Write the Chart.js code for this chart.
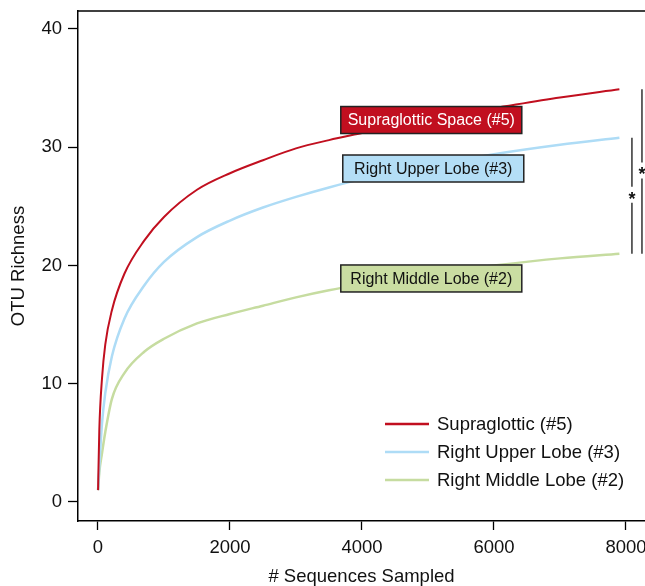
<!DOCTYPE html>
<html>
<head>
<meta charset="utf-8">
<script src="https://cdn.jsdelivr.net/npm/chart.js@4"></script>
<style>
  html, body { margin: 0; padding: 0; background: #fff; overflow: hidden; }
  #wrap { width: 645px; height: 586px; }
</style>
</head>
<body>
<div id="wrap"><canvas id="rarefaction"></canvas></div>
<script>
// rarefaction curves
const seqSampled   = [1, 20, 60, 110, 210, 400, 700, 1000, 1500, 2000, 2500, 3000, 3500, 4000, 5000, 6000, 7000, 7900];
const supraglottic = [1, 6.1, 10.4, 13.3, 16.2, 19.3, 22.1, 24.1, 26.4, 27.8, 28.9, 29.9, 30.6, 31.2, 32.4, 33.3, 34.2, 34.9];
const rightUpper   = [1, 3.0, 6.6, 9.2, 12.3, 15.5, 18.3, 20.3, 22.4, 23.8, 24.9, 25.8, 26.6, 27.3, 28.4, 29.4, 30.2, 30.8];
const rightMiddle  = [1, 2.5, 4.1, 5.9, 8.7, 10.9, 12.7, 13.8, 15.1, 15.9, 16.6, 17.3, 17.9, 18.4, 19.3, 20.0, 20.6, 21.0];

const seriesNames = ['Supraglottic (#5)', 'Right Upper Lobe (#3)', 'Right Middle Lobe (#2)'];
const xTicks = [0, 2000, 4000, 6000, 8000];
const yTicks = [0, 10, 20, 30, 40];

// labelled boxes on the curves
const boxLabels = ['Supraglottic Space (#5)', 'Right Upper Lobe (#3)', 'Right Middle Lobe (#2)'];
const boxX = [5050, 5080, 5050];
const boxY = [32.3, 28.2, 18.9];

// significance bars at the right
const sigX = [8090, 8242];
const sigFrom = [30.8, 34.9];
const sigTo = [21.0, 21.0];

const colors = ['#c10f1f', '#aedcf6', '#c6dca0'];
const boxFill = ['#c10f1f', '#b4def6', '#cadda2'];
const boxText = ['#ffffff', '#111111', '#111111'];
const FONT = '"Liberation Sans", Arial, Helvetica, sans-serif';

function pts(ys) {
  return seqSampled.map((x, i) => ({ x: x, y: ys[i] }));
}

function noPad(s) {
  s.paddingLeft = 0; s.paddingRight = 0; s.paddingTop = 0; s.paddingBottom = 0;
}

const extras = {
  id: 'extras',
  afterDatasetsDraw(chart) {
    const ctx = chart.ctx;
    const xs = chart.scales.x, ys = chart.scales.y;
    const area = chart.chartArea;
    ctx.save();

    // top frame line
    ctx.strokeStyle = '#000';
    ctx.lineWidth = 1.5;
    ctx.beginPath();
    ctx.moveTo(area.left, area.top);
    ctx.lineTo(area.right, area.top);
    ctx.stroke();

    // curve label boxes
    ctx.font = '16px ' + FONT;
    ctx.textAlign = 'center';
    ctx.textBaseline = 'middle';
    boxLabels.forEach((t, i) => {
      const cx = xs.getPixelForValue(boxX[i]);
      const cy = ys.getPixelForValue(boxY[i]);
      const w = 181, h = 27;
      ctx.fillStyle = boxFill[i];
      ctx.fillRect(cx - w / 2, cy - h / 2, w, h);
      ctx.strokeStyle = '#222';
      ctx.lineWidth = 1.5;
      ctx.strokeRect(cx - w / 2, cy - h / 2, w, h);
      ctx.fillStyle = boxText[i];
      ctx.fillText(t, cx, cy + 1);
    });

    // significance bars with stars
    ctx.strokeStyle = '#333';
    ctx.lineWidth = 1.5;
    sigX.forEach((v, i) => {
      const px = xs.getPixelForValue(v);
      const y1 = ys.getPixelForValue(sigFrom[i]);
      const y2 = ys.getPixelForValue(sigTo[i]);
      const mid = (y1 + y2) / 2;
      ctx.beginPath();
      ctx.moveTo(px, y1);
      ctx.lineTo(px, mid - 9);
      ctx.moveTo(px, mid + 7);
      ctx.lineTo(px, y2);
      ctx.stroke();
      ctx.fillStyle = '#111';
      ctx.font = 'bold 18px ' + FONT;
      ctx.fillText('*', px, mid + 4);
    });

    // legend, bottom right of plot
    ctx.font = '18.5px ' + FONT;
    ctx.textAlign = 'left';
    chart.data.datasets.forEach((ds, i) => {
      const ly = area.bottom - 97 + i * 28;
      const lx = area.right - 260;
      ctx.strokeStyle = ds.borderColor;
      ctx.lineWidth = 2.5;
      ctx.beginPath();
      ctx.moveTo(lx, ly);
      ctx.lineTo(lx + 44, ly);
      ctx.stroke();
      ctx.fillStyle = '#111';
      ctx.fillText(ds.label, lx + 52, ly + 1);
    });
    ctx.restore();
  }
};

new Chart(document.getElementById('rarefaction'), {
  type: 'line',
  data: {
    datasets: [
      { label: seriesNames[0], data: pts(supraglottic), borderColor: colors[0], borderWidth: 2 },
      { label: seriesNames[1], data: pts(rightUpper), borderColor: colors[1], borderWidth: 2.5 },
      { label: seriesNames[2], data: pts(rightMiddle), borderColor: colors[2], borderWidth: 2.5 }
    ]
  },
  options: {
    responsive: true,
    maintainAspectRatio: false,
    animation: false,
    layout: { padding: { top: 11, right: 0, left: 0, bottom: 0 } },
    elements: {
      point: { radius: 0 },
      line: { cubicInterpolationMode: 'monotone', fill: false }
    },
    plugins: {
      legend: { display: false },
      tooltip: { enabled: false }
    },
    scales: {
      x: {
        type: 'linear',
        min: -303,
        max: 8288,
        afterBuildTicks: s => { s.ticks = xTicks.map(v => ({ value: v })); },
        afterFit: s => { s.height = 65; noPad(s); },
        grid: { drawOnChartArea: false, tickLength: 9, tickColor: '#000', tickWidth: 1.3 },
        border: { color: '#000', width: 1.5 },
        ticks: { color: '#111', padding: 7, maxRotation: 0, callback: v => String(v), font: { size: 18.5, family: FONT } },
        title: { display: true, text: '# Sequences Sampled', color: '#111', padding: { top: 0, bottom: 0 }, font: { size: 18.5, family: FONT, lineHeight: 1 } }
      },
      y: {
        min: -1.61,
        max: 41.52,
        afterBuildTicks: s => { s.ticks = yTicks.map(v => ({ value: v })); },
        afterFit: s => { s.width = 78; noPad(s); },
        grid: { drawOnChartArea: false, tickLength: 10, tickColor: '#000', tickWidth: 1.3 },
        border: { color: '#000', width: 1.5 },
        ticks: { color: '#111', padding: 6, callback: v => String(v), font: { size: 18.5, family: FONT } },
        title: { display: true, text: 'OTU Richness', color: '#111', padding: { top: 10, bottom: 0 }, font: { size: 18.5, family: FONT, lineHeight: 1 } }
      }
    }
  },
  plugins: [extras]
});
</script>
</body>
</html>
